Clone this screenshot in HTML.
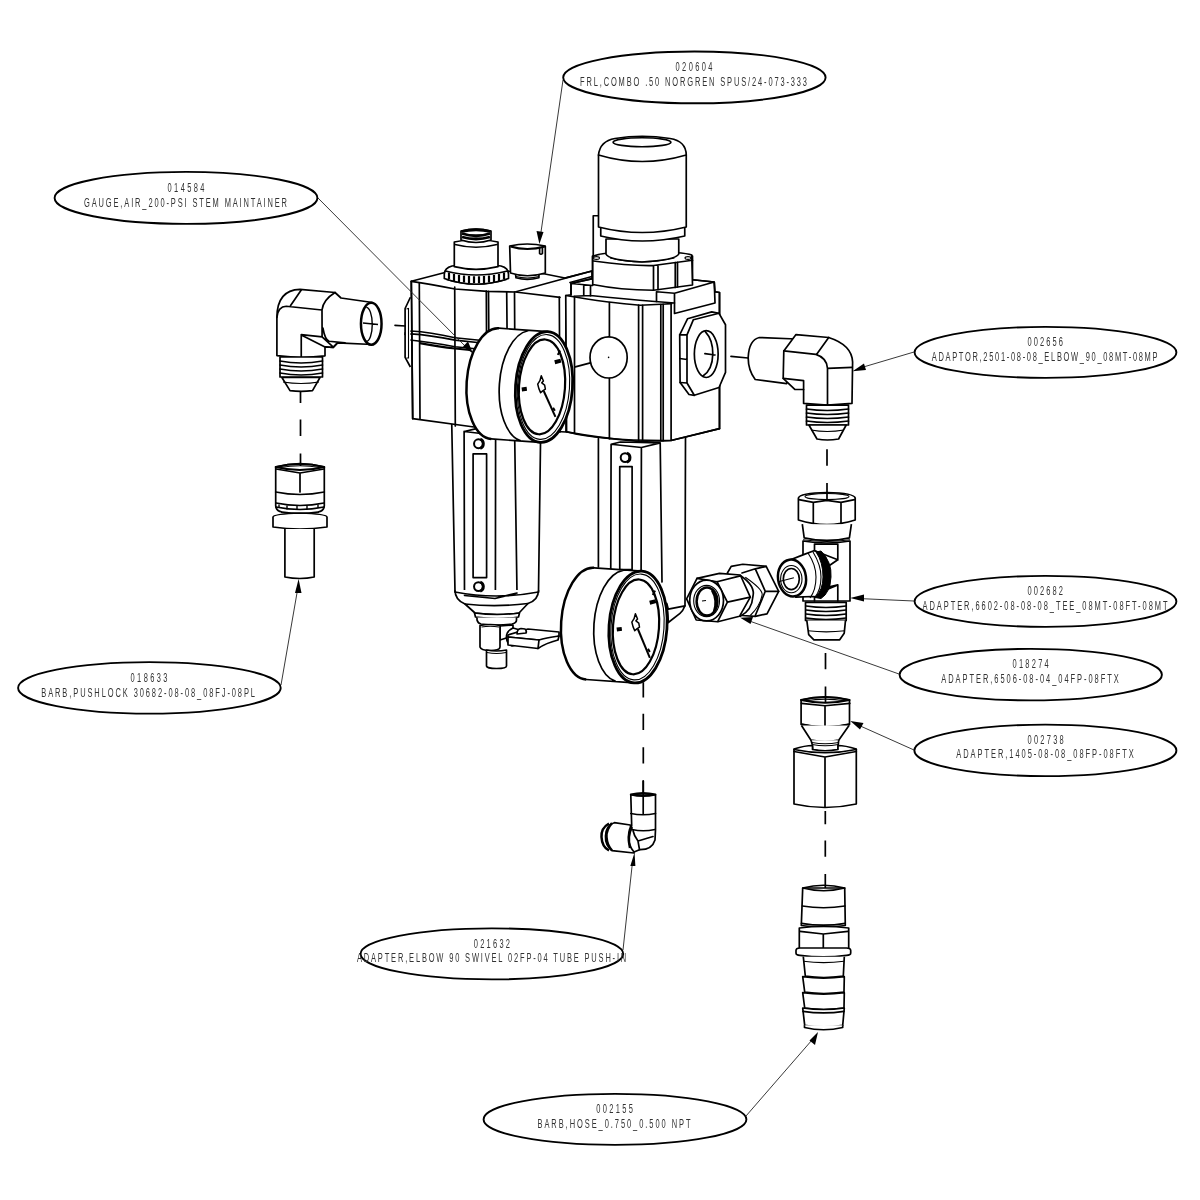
<!DOCTYPE html>
<html><head><meta charset="utf-8"><style>
html,body{margin:0;padding:0;background:#fff;width:1200px;height:1200px;overflow:hidden}
svg{display:block;will-change:transform}
.e{fill:none;stroke:#000;stroke-width:1.9}
.t{font-family:"Liberation Sans",sans-serif;font-size:13.6px;fill:#333}
.l{fill:none;stroke:#000;stroke-width:1.7;stroke-linejoin:round;stroke-linecap:round}
.th{fill:none;stroke:#000;stroke-width:1.1}
.k{fill:none;stroke:#000;stroke-width:2.5;stroke-linejoin:round}
.w{fill:#fff;stroke:#000;stroke-width:1.7;stroke-linejoin:round}
.d{fill:none;stroke:#000;stroke-width:1.7;stroke-dasharray:none}
.ar{fill:#000;stroke:none}
.ld{fill:none;stroke:#222;stroke-width:0.9}
</style></head><body>
<svg width="1200" height="1200" viewBox="0 0 1200 1200">
<!-- ============ left elbow ============ -->
<g id="elbowL">
<path class="w" d="M276.9,355.6 L276.9,317.5 Q277,290 300,289.4 L335,292.5 L341,298 L372.5,302.5 L372.5,344.5 L337.5,342.9 L333.3,347.5 L325,346.9 L325,355.8 L301.25,357.9 Z"/>
<path class="l" d="M301.25,290 L290.6,305.6 M276.9,317.5 Q278,306.5 286.25,306.25 L321.9,310 M335,292.5 Q323,300 322,310 L322.1,336.9 L333.3,347.1 L337.5,342.9 M301.25,357.9 L301.25,334.6 L322.1,336.9 M301.25,335 L325,346.9 L333.3,347.5 M322.9,328 Q325,340 329.2,341.25 L345,342.9"/>
<ellipse class="k" style="fill:#fff" cx="371.25" cy="323.75" rx="10.3" ry="21"/>
<path class="th" style="stroke-width:1.4" d="M366.25,307.4 A6,17 0 0 1 366.25,341.4 M363,323 L378,324.5"/>
<path class="w" d="M280,357 L322.5,357 L322.5,377 L280,377 Z"/>
<path class="l" d="M280,361 Q301,365 322.5,361 M280,365 Q301,369 322.5,365 M280,369 Q301,373 322.5,369 M280,373 Q301,377 322.5,373"/>
<path class="w" d="M281.9,377.5 L290,390.6 Q301,392 312.5,390.6 L320,377.5 Z"/>
<path class="th" d="M283,382 Q301,385 319,382"/>
</g>

<!-- ============ pushlock barb ============ -->
<g id="pushlock">
<path class="w" d="M275.7,467 L275.7,506 Q276,511 282,512 Q300,515 318,512 Q324,511 324.3,506 L324.3,467 Q300,460 275.7,467 Z"/>
<path class="k" style="stroke-width:2" d="M275.7,467 Q300,461 324.3,467 Q300,473 275.7,467 Z"/>
<path class="th" d="M280,467.5 Q300,464 320,467.5"/>
<path class="l" d="M276,469 L300,473 L324,469 M300,473 L300,492 M275.7,492 Q300,497 324.3,492"/>
<path class="l" d="M276,503 Q300,508 324,503 M276,507 Q300,512 324,507"/>
<path class="k" style="stroke-width:1.4" d="M279,504.5 L279,508 M287,505.5 L287,509.5 M297,506 L297,510 M307,505.5 L307,509.5 M318,504.5 L318,508"/>
<path class="th" d="M281,512.5 Q300,516 319,512.5"/>
<path class="w" d="M273,517 Q273,514 300,513 Q327,514 327,517 L327,527 Q300,531 273,527 Z"/>
<path class="w" d="M284.9,529 L284.9,577 Q300,580 314.2,577 L314.2,529"/>
</g>

<!-- ============ main left unit ============ -->
<g id="unitL">
<!-- bowl -->
<path class="w" style="stroke:none" d="M451.75,424 L455,592 L538.5,592 L540.6,436 Z"/>
<path class="l" d="M451.75,424 L455,592 M540.6,436 L538.5,592"/>
<path class="l" d="M464.1,431.4 L464.5,595.5 M495.6,439.25 L495.4,598.5 M514.75,441 L517,593 M464.3,431.5 L475.3,428.8 M464.3,431.5 L481,433.5"/>
<rect class="l" x="473.1" y="453.9" width="13.5" height="123.7"/>
<path class="w" d="M455,590 Q455,600 465,604 L475,613 Q497,616 519,613 L528,603.5 Q538.5,600 538.5,590"/>
<path class="l" d="M464.5,595.5 L495,598.5 L517,593 M465,604 Q496,607.5 528,603.5 M455,592 Q496,600 538.5,592"/>
<path class="w" d="M474.5,613 L475.5,617 Q497,620 518.5,617 L519.5,613 Q497,616 474.5,613 Z"/>
<path class="w" d="M477,617.5 L477,620 Q478,623.5 481,624 Q497,626 512,624 Q516.5,623 516.5,620 L516.5,617.5"/>
<path class="w" d="M500,626 L513,625 L513,636 L500,640 Z"/>
<path class="w" d="M480,625.5 L480,647 Q481,650.5 490,650.5 Q500,650.5 500,647 L500,625.5 Q490,623.5 480,625.5 Z"/>
<path class="th" d="M481.5,627 Q490,625.5 499,627"/>
<path class="w" d="M486.5,650 L486.5,666 Q487,668.5 496.5,668.5 Q506.5,668.5 506.5,666 L506.5,650 Q496.5,652 486.5,650 Z"/>
<path class="th" d="M487,652.5 Q496.5,654.5 506,652.5"/>
<path class="w" d="M513,628 Q506,631 506.5,638 Q507,644 512,646 L520,644 L520,630 Z"/>
<path class="w" d="M508,635 L528,629 L559,632 L559,636 Q555,639 539,640 L508,637 Z"/>
<path class="w" d="M508,637 L539,640 Q545,638 559,636 L558,640 Q546,643 538,648.5 L508,645 Z"/>
<path class="l" d="M539,640 L538,648.5"/>
<path class="w" d="M517,634 Q517,629 521,628.5 L525,629 Q527,631 526,633 Z"/>
<circle class="k" style="stroke-width:2" cx="478.45" cy="443.75" r="4.4"/>
<path class="k" style="stroke-width:2.8" d="M480.25,439.15 A4.8,4.9 0 0 1 480.25,448.35"/>
<circle class="k" style="stroke-width:2" cx="478.45" cy="586.6" r="4.4"/>
<path class="k" style="stroke-width:2.8" d="M480.25,582.0 A4.8,4.9 0 0 1 480.25,591.2"/>
<!-- block -->
<path class="w" d="M411.3,281.3 L444,272.7 L476,270 L527,272 L545,274 L565,278 L592,271 L592,300 L566,296 L566,432 L474,427 L412.7,418.7 Z"/>
<path class="l" d="M411.3,281.3 Q430,284 455,289 L487.3,291.3 L515.3,292 L560,297.3 M515,292 L592,271 M565,278 L592,271 M570,282.5 L592,276.5"/>
<path class="l" d="M419.3,283.3 L420,418.7 M454.7,287 L455.3,426 M486.3,291 L487,428 M488.5,291.3 L489.5,428 M506.7,292 L508,430 M514.5,292 L515.3,431 M559.3,297 L560,432 M411.3,281.3 L412.7,418.7"/>
<path class="l" d="M405,333 L411,331 Q430,332 455,337.75 L482,340.5 M405,334.5 L411,333.8 Q430,335 455,340.2 L482,343 M410,340 Q430,342 455,346.75 L478,349"/>
<path class="k" style="stroke-width:2.2" d="M419.75,343.2 Q440,347 455,348.5 L470,350"/>
<path class="w" d="M410.4,297.25 L405.1,308.5 L405.1,357.3 L410.4,367"/>
<path class="th" d="M406.5,309 L408.5,308.5 L408.5,358 L406.5,358"/>
<!-- knob left -->
<path class="w" d="M444.3,274 Q444.5,268 452,266 Q476,262 501,266 Q508.5,268 508.5,274 L508.5,278.5 Q476,290 444.3,278.5 Z"/>
<path class="l" d="M445.5,271 Q476,279 507.5,271"/>
<path class="th" d="M446,279.5 Q476,289 507,279.5"/>
<path class="k" style="stroke-width:2.2" d="M449,272.5 L449,279 M454,274 L454,281 M459,275 L459,282 M464,275.5 L464,282.5 M469,276 L469,283 M474,276.2 L474,283 M479,276.2 L479,283 M484,276 L484,283 M489,275.5 L489,282.5 M494,275 L494,282 M499,274 L499,281 M504,272.5 L504,279"/>
<path class="w" d="M454.3,266.7 L454.3,242 Q476,237 498,242 L498,266.7 Q476,272 454.3,266.7 Z"/>
<path class="l" d="M455,244.5 Q476,250 497,244.5"/>
<path class="w" d="M461,240 L461,231 Q476,227 491,231 L491,240 Q476,245 461,240 Z"/>
<path class="k" style="stroke-width:2.8" d="M461.5,231.5 Q476,228 490.5,231.5 M462,233.5 Q476,238 490,233.5 M462,237 Q476,241 490,237"/>
<!-- cap right -->
<path class="w" d="M515.5,274 L516,277.8 Q527,281 538.9,277.8 L539,274 Z"/>
<path class="w" d="M509.7,246 L510.5,273 Q527,278.5 545.3,273 L545.3,246 Q527,242 509.7,246 Z"/>
<path class="k" style="stroke-width:2.2" d="M510.5,246.5 Q527,251.5 545,246.5"/>
<path class="th" d="M516,276.5 Q527,279.5 539,276.5"/>
<path class="l" d="M539.6,247.5 L539.6,253.5 Q541,255 542.4,253.5 L542.4,247.5"/>
</g>

<!-- ============ regulator ============ -->
<g id="reg">
<!-- lower column -->
<path class="w" d="M598.4,438.5 L598.4,567 L640,600 L685.5,605 L685.5,436 Z" style="stroke:none"/>
<path class="l" d="M598.4,438.5 L598.4,567 M685.5,436 L685,605.8"/>
<path class="l" d="M611.1,444.25 L610.75,570 M641.4,447.5 L641.1,570 M660.2,442.9 L662,582 M611.1,444.25 L620.3,442 L660.2,442.9 L641.4,447.5 Z"/>
<circle class="k" style="stroke-width:2" cx="625.1" cy="457.6" r="4.4"/>
<path class="k" style="stroke-width:2.8" d="M626.9,453.0 A4.8,4.9 0 0 1 626.9,462.20000000000005"/>
<rect class="l" x="619.75" y="466.6" width="12.35" height="103"/>
<path class="w" d="M666.7,603.3 L668.3,609.2 L685,605.8 Q683,611 680,613.3 Q674,618 668.3,622.5 Q668,612 666.7,603.3 Z"/>
<!-- body -->
<path class="w" d="M565.75,295.5 L571,294.75 L571,283.5 L592.5,278.7 L592.5,256 L692.5,256 L692.5,279.75 L714.25,282 L715,291.75 L719.5,292.5 L719.5,428.6 L671.1,440.5 Q600,441 566.6,431.8 Z"/>
<path class="l" d="M565.75,295.5 Q610,303 640,305.25 L671.5,303.75 M574,296.25 L590.5,295.5 Q625,299 655,301.5 L674.5,303 M571,283.5 L571,294.75 M583.75,285 L583.75,296 M590.5,285.5 L590.5,296 M571,283.5 L592.5,278.7 M571,283.5 L592.75,285.5"/>
<path class="l" d="M656.5,291.75 L674.5,293.25 L714.25,282 L715,303 L674.5,313.5 L674.5,293.25 M656.5,291.75 L656.5,301.5 M692.5,279.75 L714.25,282 M715,291.75 L719.5,292.5 L719.5,428.6"/>
<path class="l" d="M574.5,296.5 L574.5,433.5 M609.4,302.5 L609.4,341 M609.4,378 L609.4,439 M638.6,305.1 L638.6,441.3 M642.6,305.3 L642.6,441.3 M660.8,304.5 L660.8,441 M663.2,304.3 L663.2,441 M671.1,304 L671.1,440.5 M566.6,431.8 Q600,438 638.6,441.3 L671.1,440.5 L719.5,428.6"/>
<ellipse class="l" cx="608.6" cy="357.4" rx="18.6" ry="20.6" style="fill:#fff"/>
<circle cx="608.6" cy="357.4" r="0.8" fill="#000"/>
<path class="l" d="M575.3,366.9 L590.4,362.9"/>
<!-- right port boss -->
<path class="w" d="M687.5,318.8 L711.75,311.9 L719,313.3 L725.5,324.75 L725.5,372.4 L719,387.5 L694.3,395.3 L689,394.5 L680.1,382.5 L679.7,334.8 L684,326 Z"/>
<path class="l" d="M693.4,319.7 L687,334.8 L687,383 L694.3,395.3 M693.4,319.7 L719,313.3 M679.7,334.8 L687,334.8 M680.1,382.5 L687,383 M679.8,358.5 L687,359.5"/>
<ellipse class="l" style="fill:#fff" cx="706.25" cy="354.1" rx="11.9" ry="23.4"/>
<path class="l" d="M705.3,331.6 Q713,340 712.8,354 Q712.5,370 702.7,376.3 M704.9,353.6 L715,355"/>
<!-- nut -->
<path class="l" d="M593.25,215.75 L598,215.75 M593.25,215.75 L593.25,257"/>
<path class="w" d="M592.75,256.5 Q600,252 642,251 Q684,252 691.75,255 L692.5,285 L653.5,290.25 Q620,290 592.75,284.5 Z"/>
<path class="l" d="M593.5,261 Q630,266 653.5,265.5 L692.5,260.25 M653.5,265.5 L653.5,290.25 M658,265 L658,289.5 M675.25,262.5 L675.25,287.5 M677.5,262 L677.5,287"/>
<ellipse class="th" cx="596.5" cy="258" rx="3" ry="1.4"/>
<ellipse class="th" cx="688" cy="258" rx="3" ry="1.4"/>
<!-- neck -->
<path class="w" d="M606,239 L606,254 Q608,260 642,262 Q676,260 678.75,254 L678.75,239 Z"/>
<path class="th" d="M610,258 Q641.5,266 674.5,258"/>
<path class="w" d="M600.75,227 L600.75,236 Q642,246 684.75,236 L684.75,227 Z"/>
<!-- cap -->
<path class="w" d="M598.5,155 Q600,141 615,138.5 Q642,134 670,138.5 Q686,141 686.25,155 L686.25,227 Q642,238 598.5,227 Z"/>
<path class="l" d="M598.5,155 Q642,168 686.25,155"/>
<ellipse class="l" cx="642" cy="142.25" rx="28.9" ry="4.5"/>
</g>

<!-- ============ upper gauge ============ -->
<g transform="translate(544,387) rotate(4)">
<path class="w" d="M-49,-55.5 A28.5,55.5 0 0 0 -49,55.5 L0,55.5 L0,-55.5 Z" style="stroke:none"/>
<path class="k" d="M-49,-55.5 A28.5,55.5 0 0 0 -49,55.5"/>
<path class="l" d="M-49,-55.5 L0,-55.5 M-49,55.5 L0,55.5 M-20,-55 A28.5,55.5 0 0 0 -20,55"/>
<ellipse class="k" style="fill:#fff;stroke-width:2.8" cx="0" cy="0" rx="28.5" ry="55.5"/>
<ellipse class="th" cx="-0.5" cy="0" rx="26" ry="52.5"/>
<ellipse class="k" style="stroke-width:2.2" cx="-2" cy="0" rx="23" ry="47.5"/>
<path class="k" style="stroke-width:2" d="M0,4 L13.5,29"/>
<path class="w" style="stroke-width:1.5" d="M-3.5,-11 L-1,-6 L-2.5,-4 L0.5,-2 L1.5,2 L-1,4 L-3,6 L-5,2 L-6.5,-2.5 L-4.5,-6 Z"/>
<path class="k" style="stroke-width:4" d="M9,-25.5 L15,-27.5 M-22,4 L-17,3"/>
<path class="k" style="stroke-width:2" d="M11.5,-33 L13.5,-37.5 M10.5,20 L12.5,23"/>
</g>

<!-- ============ lower gauge ============ -->
<g transform="translate(638,627) rotate(4)">
<path class="w" d="M-48,-56 A29,56 0 0 0 -48,56 L0,56 L0,-56 Z" style="stroke:none"/>
<path class="k" d="M-48,-56 A29,56 0 0 0 -48,56"/>
<path class="l" d="M-48,-56 L0,-56 M-48,56 L0,56 M-19,-55.5 A29,56 0 0 0 -19,55.5"/>
<ellipse class="k" style="fill:#fff;stroke-width:2.8" cx="0" cy="0" rx="29" ry="56"/>
<ellipse class="th" cx="-0.5" cy="0" rx="26.5" ry="53"/>
<ellipse class="k" style="stroke-width:2.2" cx="-2" cy="0" rx="23" ry="47.5"/>
<path class="k" style="stroke-width:2" d="M0,2 L14,30"/>
<path class="w" style="stroke-width:1.5" d="M-3.5,-13 L-1,-8 L-2.5,-6 L0.5,-4 L1.5,0 L-1,2 L-3,4 L-5,0 L-6.5,-4.5 L-4.5,-8 Z"/>
<path class="k" style="stroke-width:4" d="M10,-25 L16,-27 M-21,4 L-16,3"/>
<path class="k" style="stroke-width:2" d="M12.5,-33 L14.5,-37.5 M11.5,21 L13.5,24"/>
</g>

<!-- ============ right elbow ============ -->
<g id="elbowR">
<path class="w" d="M759.3,337.5 L796,339 L786.7,383.6 L755.2,379.5 Q748,370 748.2,357.3 Q749,340 759.3,337.5 Z"/>
<path class="w" d="M783.8,350.9 L796,334.6 L828.7,337.5 Q852,345 852.6,362 L852,403.4 L827.5,405.2 L803.6,403.4 L803.6,389.5 L794.8,389.4 L783.2,378.3 Z"/>
<path class="l" d="M783.8,350.9 L815.9,354.4 Q827,358 827.5,368.4 L827.5,405.2 M827.5,368.4 L852,367.3 M828.7,337.5 L816.5,354.4 M783.2,378.3 L803.6,380.7 L803.6,389.5"/>
<path class="w" d="M806.5,405.2 L848.5,405.2 L848.5,425 L806.5,425 Z"/>
<path class="l" d="M806.5,409 Q827,412 848.5,409 M806.5,413 Q827,416 848.5,413 M806.5,417 Q827,420 848.5,417 M806.5,421 Q827,424 848.5,421"/>
<path class="w" d="M808.9,425 L817,439 Q827,441 838.6,439 L846.2,425 Z"/>
<path class="th" d="M811,430 Q827,433 844,430"/>
</g>

<!-- ============ tee ============ -->
<g id="tee">
<path class="w" d="M798.4,498 Q800,493 827,492.5 Q854,493 855.2,498 L855.2,520 Q827,529 798.4,520 Z"/>
<path class="l" d="M798.75,499.7 L813.3,502.3 L826.8,500.3 L841,502.3 L854.6,499.7 M813.3,502.3 L813.3,523.5 M841,502.3 L841,523.5"/>
<ellipse class="th" cx="827" cy="496.5" rx="22" ry="3"/>
<path class="w" d="M802.3,524.2 L804.2,537.8 Q827,543 849.4,537.8 L851.4,524.2"/>
<path class="th" d="M803,539.7 Q827,543 850,539.7"/>
<path class="w" d="M803,541 L803,601 L850,601 L850,541 Q827,545 803,541 Z"/>
<path class="l" d="M814.5,544.2 L837.8,544.2 M814.5,544.2 L814.5,552 M837.8,544.2 L837.8,560 M814.5,550.7 L837.8,559.7 L829.4,565.5 L829.4,586.9 L837.8,584.9 L814.5,594.6 L814.5,601 M837.8,584.9 L837.8,601"/>
<path class="w" d="M784.2,562.3 L803.6,554.6 L813.9,550.7 L822,553 Q830,562 829,577 Q828,592 820,597 L812.6,596.5 L795.8,597.2 Z"/>
<path style="fill:#000;stroke:#000;stroke-width:1" d="M816,552 L821,551 Q832,562 831,577 Q830,593 821,598.5 L815,597.5 Q823,590 823,577 Q823,562 816,552 Z"/>
<path class="th" d="M808,553 Q816,565 816,577 Q816,590 810,598 M813,552 Q821,565 821,577 Q821,590 815,597"/>
<ellipse class="k" cx="792" cy="578" rx="14" ry="18.5" style="fill:#fff" transform="rotate(-8 792 578)"/>
<ellipse class="th" cx="791.3" cy="579.1" rx="10.7" ry="13.6"/>
<ellipse class="l" cx="791.3" cy="579.1" rx="8" ry="10.6"/>
<path class="th" d="M778.4,581.7 L793.9,577.8"/>
<path class="w" d="M805.5,602.3 L846.2,602.3 L846.2,620.4 L805.5,620.4 Z"/>
<path class="l" d="M806,606 Q826,609 846,606 M806,610 Q826,613 846,610 M806,614 Q826,617 846,614 M806,618 Q826,621 846,618"/>
<path class="w" d="M806.8,620.4 L808.7,634.6 L813.9,639.8 L839.7,639.8 L844.2,633.3 L845.5,620.4"/>
<path class="th" d="M808,630.75 Q826,633 845,630.75"/>
</g>
<!-- ============ 6506 adapter ============ -->
<g id="a6506">
<path class="w" d="M727.4,573 L731.2,566.3 L742.8,564.25 L766.2,566.3 L778.7,591.3 L767,613.8 L755.3,616.3 L742,615.5 Z"/>
<path class="l" d="M755.3,568.8 L765.3,591.3 L778.7,591.3 M765.3,591.3 L755.3,615.5 M742,573 L755.3,568.8 L766.2,566.3"/>
<path class="w" d="M740.3,575.5 Q756,586 752.8,597.2 Q752,610 740.3,616.3 Z"/>
<path class="th" d="M745.3,577.2 Q764,590 762,595.5 Q760,606 750.3,615.5"/>
<path class="w" d="M686.6,598.8 L697,578.4 L719.5,573.4 L740.3,575 L750.3,597.2 L739.5,616.3 L717.8,621.75 L696.2,620 Z"/>
<path class="l" d="M697,578.4 L717,581.75 L740.3,575.9 M717,581.75 L727.4,602.2 L750.3,597.2 M727.4,602.2 L717.8,621.3"/>
<ellipse class="l" cx="706.6" cy="600.5" rx="16.9" ry="20.4" style="fill:#fff"/>
<ellipse class="th" cx="706.6" cy="601" rx="12.9" ry="15.6"/>
<ellipse class="k" cx="707" cy="601.5" rx="10.4" ry="14"/>
<path class="k" d="M712,590 Q718,600 714,612"/>
<path class="th" d="M702,601 L706,600.5"/>
</g>
<!-- ============ 1405 adapter ============ -->
<g id="a1405">
<path class="w" d="M801.1,700 L801.1,724.4 Q825,730 849.5,724.4 L849.5,700 Q825,694 801.1,700 Z"/>
<path class="k" style="stroke-width:2.2" d="M801.1,700 Q825,694 849.5,700 Q825,705.5 801.1,700 Z"/>
<path class="th" d="M806,700.8 Q825,697.5 844.5,700.8"/>
<path class="l" d="M801.4,703.4 L825,705.75 L849.8,703.4 M825,705.75 L825,728.5"/>
<path class="k" style="stroke-width:2.2" d="M801.4,724.4 Q825,730 849.5,724.4"/>
<path class="w" d="M801.5,725.5 L811,740.2 Q825,743 838.7,740.2 L849,725.5"/>
<path class="w" d="M811,740.2 L812.2,744.25 L812.75,749.5 Q825,752 837.8,749.5 L838.3,744.25 L838.7,740.2"/>
<path class="th" d="M812,742.5 Q825,745 838.5,742.5 M812.3,744.5 Q825,747 838.3,744.5"/>
<path class="w" d="M794,749 L794,804 Q825,811 856.3,804 L856.3,749 Q845,745.5 838,745.5 L838,749.5 Q825,752 812.5,749.5 L812.5,745.5 Q805,745.5 794,749 Z"/>
<path class="l" d="M794,749.5 Q825,756 856.3,749.5 M794,751.5 L825,757 L856.3,751.5 M825,757 L825,807"/>
</g>

<!-- ============ small elbow ============ -->
<g id="elbowS">
<path class="w" d="M614.3,822.7 L630.3,825 L634,853 L612,850.7 Q605,845 605.5,836 Q606,825 614.3,822.7 Z"/>
<path class="k" d="M609,823.5 Q601,828 601.5,837 Q602,847 609,850.5 M612,823 Q606,830 606.5,837 Q607,845 612,850.5"/>
<path class="w" d="M630.8,795 Q643,793 655.5,795 L655.5,829.6 L655,840 Q652,850 639.5,849.7 L634,852 Q628,845 628.5,836 Q629,828 631.7,826 L630.8,795 Z"/>
<path class="k" style="stroke-width:2" d="M630.8,794.5 Q643,791.5 655.5,794.5 Q643,797.5 630.8,794.5 Z"/>
<path class="l" d="M630.8,813.5 Q643,816 655.5,813.5 M643.2,780.8 L643.2,813.5 M632,829.5 Q643,832 655,829.5 M638,841 L653,836.5 M633,830.5 Q634,836 638,841 L639.5,849.7"/>
<path class="k" d="M632,827 Q627,836 630,848"/>
</g>

<!-- ============ barb hose ============ -->
<g id="barb">
<path class="w" d="M802.7,888 L801.3,925.5 Q823.5,929 845.3,925.5 L844.7,888 Z"/>
<path class="l" d="M802.7,888 Q823.7,882.5 844.7,888 Q823.7,893.5 802.7,888 Z"/>
<path class="l" d="M802.3,906 Q823.5,909.5 844.9,906 M801.5,923.3 Q823.5,927 845.2,923.3"/>
<path class="w" d="M799.3,928 L799.3,949.5 Q823.5,953 848.7,949.5 L848.7,928 Q823.5,925 799.3,928 Z"/>
<path class="l" d="M800,931.3 L823.3,934 L848,931.3 M823.3,934 L823.3,952"/>
<path class="w" d="M796,950.5 Q796,948 800,948 L846.5,948 Q850.7,948 850.7,950.5 L850.7,953 Q850.7,955.3 846.5,955.3 Q823.5,958.5 800,955.3 Q796,955.3 796,953 Z"/>
<path class="w" d="M803.3,956.7 L805.3,976 Q823.5,979 843.3,976 L844.3,956.7"/>
<path class="th" d="M803.5,961.3 Q823.5,964 844,961.3"/>
<path class="w" d="M802.7,976.7 L804.7,992 Q823.5,995 844,992 L844.3,976.7 Q823.5,979.5 802.7,976.7 Z"/>
<path class="w" d="M802.7,992.7 L804.7,1008 Q823.5,1011 844,1008 L844.3,992.7 Q823.5,995.5 802.7,992.7 Z"/>
<path class="w" d="M802.7,1008 L804.7,1025.3 Q823.5,1028.5 842.7,1025.3 L844.3,1008 Q823.5,1011 802.7,1008 Z"/>
<path class="l" d="M803,1011.3 Q823.5,1014.5 844,1011.3"/>
<path class="w" d="M804.5,1025.3 L804.5,1027.5 Q823.5,1032 842.7,1027.5 L842.7,1025.3"/>
</g>

<!-- ============ overlays ============ -->
<!-- leaders -->
<g class="ld">
<path d="M563,80 L541,232"/>
<path d="M318,198 L468,349"/>
<path d="M914,352 L860,368"/>
<path d="M914,601 L858,598.5"/>
<path d="M899,674 L748,620.5"/>
<path d="M914,750 L857,724.5"/>
<path d="M281,685 L297.5,590"/>
<path d="M623,950 L632.5,862"/>
<path d="M746,1116 L812,1040"/>
</g>
<g class="ar">
<path d="M539.4,244 L536.5,231 L543.5,232 Z"/>
<path d="M473,353.5 L463,346.5 L468,341.5 Z"/>
<path d="M852.6,371.3 L864,363.5 L866,370 Z"/>
<path d="M850.2,598 L864,594.5 L864,601.5 Z"/>
<path d="M740.2,617.7 L753,617 L750.5,624 Z"/>
<path d="M850.3,721 L863.5,723 L860,729.5 Z"/>
<path d="M298.6,579 L295,593 L301.5,593 Z"/>
<path d="M634.5,852.5 L630.3,866 L635.4,866 Z"/>
<path d="M818,1032 L815,1045 L809.5,1040.5 Z"/>
</g>
<!-- dashed center lines -->
<g class="d">
<path d="M300.5,392 L300.5,403 M300.5,419.4 L300.5,436 M300.5,453.4 L300.5,466"/>
<path d="M827,449.3 L827,465.7 M827,483 L827,499"/>
<path d="M825.5,653 L825.5,669.25 M825.5,686.6 L825.5,703"/>
<path d="M825.3,811 L825.3,824.2 M825.3,840.4 L825.3,856.7 M825.3,874 L825.3,888"/>
<path d="M643.3,682.3 L643.3,697.4 M643.3,713.7 L643.3,730 M643.3,747.3 L643.3,763.5 M643.3,780.8 L643.3,794"/>
</g>
<path class="l" d="M395,325.3 L405.3,326 M731,356.4 L748,358"/>


<ellipse cx="694.4" cy="77.40" rx="131.20" ry="25.90" class="e"/>
<text transform="translate(675.5,71) scale(0.55,1)" x="0" y="0" textLength="67.27" lengthAdjust="spacing" class="t">020604</text>
<text transform="translate(580,86) scale(0.55,1)" x="0" y="0" textLength="412.73" lengthAdjust="spacing" class="t">FRL,COMBO .50 NORGREN SPUS/24-073-333</text>
<ellipse cx="186" cy="197.90" rx="131.40" ry="26.00" class="e"/>
<text transform="translate(167.5,192) scale(0.55,1)" x="0" y="0" textLength="67.27" lengthAdjust="spacing" class="t">014584</text>
<text transform="translate(84,207) scale(0.55,1)" x="0" y="0" textLength="369.09" lengthAdjust="spacing" class="t">GAUGE,AIR_200-PSI STEM MAINTAINER</text>
<ellipse cx="1045.5" cy="352.40" rx="130.90" ry="25.50" class="e"/>
<text transform="translate(1027.5,345.75) scale(0.55,1)" x="0" y="0" textLength="64.55" lengthAdjust="spacing" class="t">002656</text>
<text transform="translate(931.75,360.5) scale(0.55,1)" x="0" y="0" textLength="410.45" lengthAdjust="spacing" class="t">ADAPTOR,2501-08-08_ELBOW_90_08MT-08MP</text>
<ellipse cx="1045.5" cy="601.40" rx="130.90" ry="25.50" class="e"/>
<text transform="translate(1027.5,595) scale(0.55,1)" x="0" y="0" textLength="64.55" lengthAdjust="spacing" class="t">002682</text>
<text transform="translate(922.5,609.5) scale(0.55,1)" x="0" y="0" textLength="445.45" lengthAdjust="spacing" class="t">ADAPTER,6602-08-08-08_TEE_08MT-08FT-08MT</text>
<ellipse cx="1030.75" cy="674.65" rx="131.15" ry="25.75" class="e"/>
<text transform="translate(1012.5,668) scale(0.55,1)" x="0" y="0" textLength="65.91" lengthAdjust="spacing" class="t">018274</text>
<text transform="translate(941.25,682.5) scale(0.55,1)" x="0" y="0" textLength="322.73" lengthAdjust="spacing" class="t">ADAPTER,6506-08-04_04FP-08FTX</text>
<ellipse cx="1045.4" cy="750.40" rx="131.00" ry="25.75" class="e"/>
<text transform="translate(1027.5,743.75) scale(0.55,1)" x="0" y="0" textLength="65.91" lengthAdjust="spacing" class="t">002738</text>
<text transform="translate(956.25,758) scale(0.55,1)" x="0" y="0" textLength="322.73" lengthAdjust="spacing" class="t">ADAPTER,1405-08-08_08FP-08FTX</text>
<ellipse cx="149.4" cy="687.90" rx="131.30" ry="25.75" class="e"/>
<text transform="translate(130.5,681.75) scale(0.55,1)" x="0" y="0" textLength="67.27" lengthAdjust="spacing" class="t">018633</text>
<text transform="translate(41.25,696.75) scale(0.55,1)" x="0" y="0" textLength="388.64" lengthAdjust="spacing" class="t">BARB,PUSHLOCK 30682-08-08_08FJ-08PL</text>
<ellipse cx="491.9" cy="953.90" rx="131.30" ry="25.50" class="e"/>
<text transform="translate(473.75,947.5) scale(0.55,1)" x="0" y="0" textLength="65.91" lengthAdjust="spacing" class="t">021632</text>
<text transform="translate(357,961.75) scale(0.55,1)" x="0" y="0" textLength="489.55" lengthAdjust="spacing" class="t">ADAPTER,ELBOW 90 SWIVEL 02FP-04 TUBE PUSH-IN</text>
<ellipse cx="615" cy="1119.40" rx="131.40" ry="25.50" class="e"/>
<text transform="translate(596.25,1113) scale(0.55,1)" x="0" y="0" textLength="66.82" lengthAdjust="spacing" class="t">002155</text>
<text transform="translate(537.5,1128) scale(0.55,1)" x="0" y="0" textLength="278.18" lengthAdjust="spacing" class="t">BARB,HOSE_0.750_0.500 NPT</text>
</svg>
</body></html>
